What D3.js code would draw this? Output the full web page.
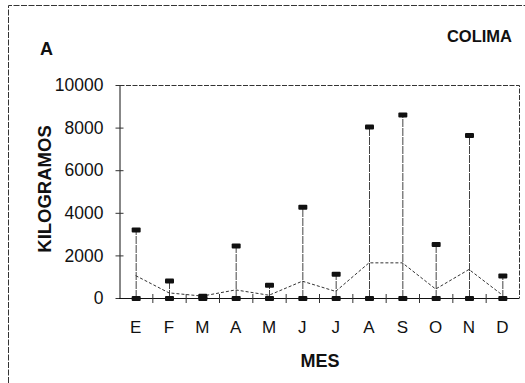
<!DOCTYPE html>
<html>
<head>
<meta charset="utf-8">
<script src="https://cdn.jsdelivr.net/npm/d3@7"></script>
<style>
  body { margin: 0; background: #fff; }
  text { font-family: "Liberation Sans", Arial, sans-serif; fill: #111; }
</style>
</head>
<body>
<div id="chart"></div>
<script>
// monthly data (kg)
const meses = ["E","F","M","A","M","J","J","A","S","O","N","D"];
const maximos = [3220, 820, 100, 2460, 620, 4280, 1140, 8050, 8620, 2540, 7650, 1060];
const promedios = [1050, 240, 90, 380, 130, 790, 310, 1650, 1650, 420, 1340, 140];
const minimos = [0, 0, 0, 0, 0, 0, 0, 0, 0, 0, 0, 0];
const yTicks = [0, 2000, 4000, 6000, 8000, 10000];

const W = 525, H = 383;

const svg = d3.select("#chart").append("svg")
  .attr("width", W).attr("height", H);

// outer frame (left + top visible)
svg.append("path")
  .attr("d", `M8.5,${H} V5.5 H525`)
  .attr("fill", "none").attr("stroke", "#333")
  .attr("stroke-dasharray", "6,1.5").attr("stroke-width", 1);

const data = meses.map((m, i) => ({id: i, mes: m, max: maximos[i], avg: promedios[i], min: minimos[i]}));

const x = d3.scaleBand()
  .domain(d3.range(meses.length))
  .range([119, 519]);

const y = d3.scaleLinear()
  .domain([0, 10000])
  .range([298, 85]);

const g = svg.append("g");

// plot box (top/right dashed)
g.append("path")
  .attr("d", `M119.5,85.5 H519.5 V298`)
  .attr("fill", "none").attr("stroke", "#333")
  .attr("stroke-dasharray", "5,1.5");

// y axis
const yAxis = d3.axisLeft(y).tickValues(yTicks).tickFormat(d3.format("d")).tickSize(4).tickSizeOuter(0);
const ya = g.append("g").attr("transform", "translate(119.5,0)").call(yAxis);
ya.select(".domain").attr("stroke", "#111");
ya.selectAll(".tick line").attr("x2", 4).attr("x1", -4).attr("stroke", "#333");
ya.selectAll(".tick text")
  .attr("x", -16).style("font-size", "17.5px")
  .style("font-family", "Liberation Sans, Arial, sans-serif").attr("fill", "#111");

// x axis line + ticks at band edges
g.append("line")
  .attr("x1", 119).attr("x2", 519.5)
  .attr("y1", y(0) + 0.5).attr("y2", y(0) + 0.5)
  .attr("stroke", "#111");
g.selectAll("line.xt")
  .data(d3.range(1, meses.length))
  .join("line")
  .attr("class", "xt")
  .attr("x1", d => x(d) + 0.5).attr("x2", d => x(d) + 0.5)
  .attr("y1", y(0) - 4).attr("y2", y(0) + 5)
  .attr("stroke", "#333");

// x labels
g.selectAll("text.xl")
  .data(data)
  .join("text")
  .attr("class", "xl")
  .attr("x", d => x(d.id) + x.bandwidth() / 2)
  .attr("y", 333)
  .attr("text-anchor", "middle")
  .style("font-size", "17px")
  .text(d => d.mes);

const cx = d => x(d.id) + x.bandwidth() / 2;

// range lines
g.selectAll("line.rng")
  .data(data)
  .join("line")
  .attr("class", "rng")
  .attr("x1", d => cx(d) + 0.5).attr("x2", d => cx(d) + 0.5)
  .attr("y1", d => y(d.min)).attr("y2", d => y(d.max))
  .attr("stroke", "#444").attr("stroke-width", 1)
  .attr("stroke-dasharray", "8,1");

// mean line
g.append("path")
  .datum(data)
  .attr("fill", "none")
  .attr("stroke", "#333")
  .attr("stroke-width", 1)
  .attr("stroke-dasharray", "3,2")
  .attr("d", d3.line().x(cx).y(d => y(d.avg)));

// max / min markers
g.selectAll("rect.mx")
  .data(data)
  .join("rect")
  .attr("class", "mx")
  .attr("x", d => cx(d) - 4).attr("y", d => y(d.max) - 2)
  .attr("width", 9).attr("height", 5).attr("rx", 1)
  .attr("fill", "#111");
g.selectAll("rect.mn")
  .data(data)
  .join("rect")
  .attr("class", "mn")
  .attr("x", d => cx(d) - 4).attr("y", d => y(d.min) - 2)
  .attr("width", 9).attr("height", 5).attr("rx", 1)
  .attr("fill", "#111");

// titles
svg.append("text")
  .attr("x", 40).attr("y", 55)
  .style("font-size", "18px").style("font-weight", "bold")
  .text("A");
svg.append("text")
  .attr("x", 512).attr("y", 42)
  .attr("text-anchor", "end")
  .style("font-size", "16.5px").style("font-weight", "bold")
  .text("COLIMA");
svg.append("text")
  .attr("transform", "translate(51,189) rotate(-90)")
  .attr("text-anchor", "middle")
  .style("font-size", "18.5px").style("font-weight", "bold")
  .text("KILOGRAMOS");
svg.append("text")
  .attr("x", 320).attr("y", 367)
  .attr("text-anchor", "middle")
  .style("font-size", "18px").style("font-weight", "bold")
  .text("MES");
</script>
</body>
</html>
